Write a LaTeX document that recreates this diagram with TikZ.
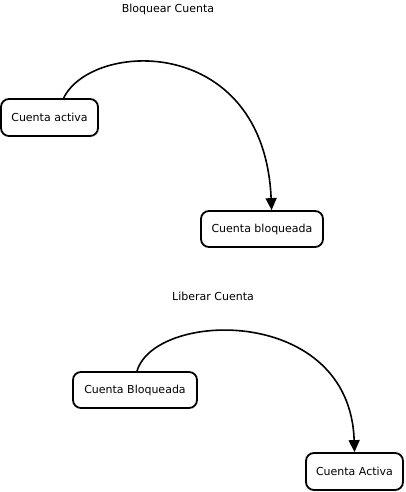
\documentclass[tikz,border=0pt]{standalone}
\usepackage{fontspec}
\setmainfont{DejaVu Sans}
\usetikzlibrary{arrows.meta}
\begin{document}
\begin{tikzpicture}[x=1pt,y=-1pt,
  state/.style={draw, line width=1.8pt, rounded corners=8pt, inner sep=0pt, font=\fontsize{11}{13}\selectfont},
  lbl/.style={font=\fontsize{11}{13}\selectfont, inner sep=0pt},
  trans/.style={line width=1.6pt, -{Triangle[length=12pt,width=11pt]}}]
\useasboundingbox (0,0) rectangle (406,492);
\node[lbl] (t1) at (168,9) {Bloquear Cuenta};
\node[state, minimum width=97pt, minimum height=37pt] (a) at (49.5,117.5) {Cuenta activa};
\node[state, minimum width=122pt, minimum height=36pt] (b) at (262,229) {Cuenta bloqueada};
\draw[trans] (a.54) .. controls (92,40) and (264,34) .. (b.63);
\node[lbl] (t2) at (213,296) {Liberar Cuenta};
\node[state, minimum width=124pt, minimum height=36pt] (c) at (135,390) {Cuenta Bloqueada};
\node[state, minimum width=97pt, minimum height=37pt] (d) at (354.5,471.5) {Cuenta Activa};
\draw[trans] (c.84) .. controls (155,310) and (350,305) .. (d.north);
\end{tikzpicture}
\end{document}
